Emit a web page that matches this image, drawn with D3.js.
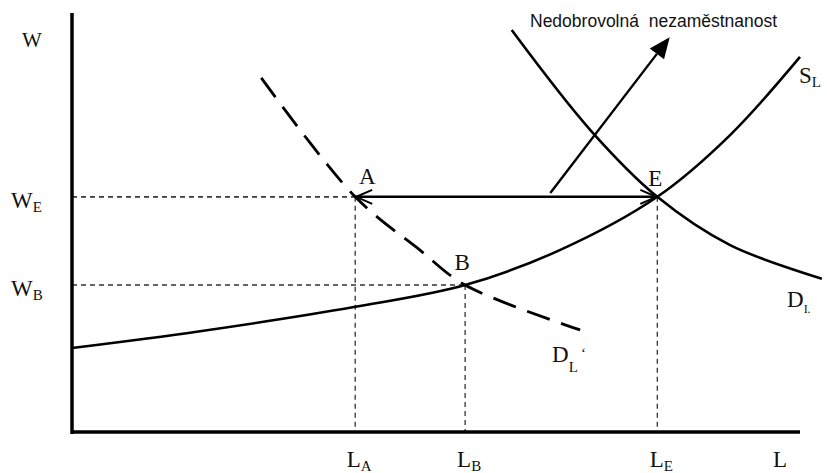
<!DOCTYPE html>
<html>
<head>
<meta http-equiv="Content-Type" content="text/html; charset=utf-8">
<script src="https://cdnjs.cloudflare.com/ajax/libs/d3/7.8.5/d3.min.js"></script>
<style>
  body { margin: 0; background: #fff; }
  .lab { font-family: "Liberation Serif", "Times New Roman", serif; fill: #111; }
  .note { font-family: "Liberation Sans", Arial, sans-serif; fill: #111; }
</style>
</head>
<body>
<div class="chart"></div>
<script type="text/javascript">

// ---------------------------------------------- DATA (abstract units 0..100)

var supplyL = [[0, 20], [17.6, 24], [38.9, 29.8], [54, 35], [67, 43.3], [80.4, 56], [90.4, 70.7], [100, 89.3]];
var demandL = [[60.4, 95.7], [71.2, 71.9], [80.4, 56], [90.4, 44.5], [103, 36.5]];
var demandL2 = [[26, 84.3], [38.9, 56], [47.8, 43.3], [54, 35], [69.8, 24.3]];

// equilibrium points
var points = [
  {name: "A", x: 38.9, y: 56},
  {name: "B", x: 54, y: 35},
  {name: "E", x: 80.4, y: 56}
];
var wTicks = [{main: "W", sub: "E", y: 56}, {main: "W", sub: "B", y: 35}];
var lTicks = [{main: "L", sub: "A", x: 38.9}, {main: "L", sub: "B", x: 54}, {main: "L", sub: "E", x: 80.4}];
var unemployArrow = [[65.7, 56.9], [82.1, 94]];
var noteText = "Nedobrovolná\u00a0 nezaměstnanost";

// ---------------------------------------------- SVG

var width = 827, height = 473;

var svg = d3.select("div.chart").append("svg")
  .attr("width", width)
  .attr("height", height);

var x = d3.scaleLinear().domain([0, 100]).range([72, 800]);
var y = d3.scaleLinear().domain([0, 100]).range([432, 12]);

// guide lines
var guides = svg.append("g");
points.forEach(function(p) {
  guides.append("line")
    .attr("x1", x(0)).attr("x2", x(p.x))
    .attr("y1", y(p.y)).attr("y2", y(p.y))
    .attr("stroke", "#333").attr("stroke-width", 1.3).attr("stroke-dasharray", "5,4");
  guides.append("line")
    .attr("x1", x(p.x)).attr("x2", x(p.x))
    .attr("y1", y(p.y)).attr("y2", y(0))
    .attr("stroke", "#333").attr("stroke-width", 1.3).attr("stroke-dasharray", "5,4");
});

// curves
var line = d3.line().x(function(d){ return x(d[0]); }).y(function(d){ return y(d[1]); }).curve(d3.curveCatmullRom);

svg.append("path").datum(supplyL).attr("d", line)
  .attr("fill", "none").attr("stroke", "#000").attr("stroke-width", 2.6);
svg.append("path").datum(demandL).attr("d", line)
  .attr("fill", "none").attr("stroke", "#000").attr("stroke-width", 2.6);
svg.append("path").datum(demandL2).attr("d", line)
  .attr("fill", "none").attr("stroke", "#000").attr("stroke-width", 2.8)
  .attr("stroke-dasharray", "24,12");

// A <-> E arrow with open heads
var ax = x(points[0].x), ex = x(points[2].x), ay = y(points[0].y);
svg.append("line")
  .attr("x1", ax).attr("x2", ex).attr("y1", ay).attr("y2", ay)
  .attr("stroke", "#000").attr("stroke-width", 2.6);
svg.append("path")
  .attr("d", "M" + (ax + 17) + "," + (ay - 7) + " L" + (ax + 1) + "," + ay + " L" + (ax + 17) + "," + (ay + 7))
  .attr("fill", "none").attr("stroke", "#000").attr("stroke-width", 2);
svg.append("path")
  .attr("d", "M" + (ex - 17) + "," + (ay - 7) + " L" + (ex - 1) + "," + ay + " L" + (ex - 17) + "," + (ay + 7))
  .attr("fill", "none").attr("stroke", "#000").attr("stroke-width", 2);

// unemployment arrow with filled head
var p0 = [x(unemployArrow[0][0]), y(unemployArrow[0][1])];
var p1 = [x(unemployArrow[1][0]), y(unemployArrow[1][1])];
var ang = Math.atan2(p1[1] - p0[1], p1[0] - p0[0]);
var hl = 21, hw = 9;
var base = [p1[0] - hl * Math.cos(ang), p1[1] - hl * Math.sin(ang)];
svg.append("line")
  .attr("x1", p0[0]).attr("y1", p0[1]).attr("x2", base[0]).attr("y2", base[1])
  .attr("stroke", "#000").attr("stroke-width", 2.4);
svg.append("path")
  .attr("d", "M" + p1[0] + "," + p1[1] +
    " L" + (base[0] + hw * Math.sin(ang)) + "," + (base[1] - hw * Math.cos(ang)) +
    " L" + (base[0] - hw * Math.sin(ang)) + "," + (base[1] + hw * Math.cos(ang)) + " Z")
  .attr("fill", "#000");

// axes
svg.append("line").attr("x1", x(0)).attr("x2", x(0)).attr("y1", y(100) + 1).attr("y2", y(0) + 2)
  .attr("stroke", "#000").attr("stroke-width", 3.5);
svg.append("line").attr("x1", x(0)).attr("x2", x(100)).attr("y1", y(0)).attr("y2", y(0))
  .attr("stroke", "#000").attr("stroke-width", 3.5);

// labels
function subLabel(g, px, py, main, sub, anchor) {
  var t = g.append("text").attr("class", "lab").attr("x", px).attr("y", py)
    .attr("font-size", 23).attr("text-anchor", anchor || "middle");
  t.append("tspan").text(main);
  t.append("tspan").attr("font-size", 15).attr("dy", 4).text(sub);
  return t;
}

var labels = svg.append("g");
labels.append("text").attr("class", "lab").attr("x", 22).attr("y", 47).attr("font-size", 21).text("W");
wTicks.forEach(function(d) {
  subLabel(labels, 11, y(d.y) + 11, d.main, d.sub, "start");
});
lTicks.forEach(function(d) {
  subLabel(labels, x(d.x) + 4, 467, d.main, d.sub, "middle");
});
labels.append("text").attr("class", "lab").attr("x", 780).attr("y", 467).attr("font-size", 23).attr("text-anchor", "middle").text("L");

labels.append("text").attr("class", "lab").attr("x", x(points[0].x) + 12).attr("y", y(points[0].y) - 13).attr("font-size", 23).attr("text-anchor", "middle").text("A");
labels.append("text").attr("class", "lab").attr("x", x(points[1].x) - 3).attr("y", y(points[1].y) - 15).attr("font-size", 23).attr("text-anchor", "middle").text("B");
labels.append("text").attr("class", "lab").attr("x", x(points[2].x) - 2).attr("y", y(points[2].y) - 11).attr("font-size", 23).attr("text-anchor", "middle").text("E");

subLabel(labels, 799, 83, "S", "L", "start");
subLabel(labels, 787, 307, "D", "I.", "start").select("tspan:last-child").attr("font-size", 12).attr("dy", 6);
var dl = subLabel(labels, 552, 362, "D", "L", "start");
dl.select("tspan:last-child").attr("dy", 10);
dl.append("tspan").attr("dy", -14).attr("font-size", 15).text(" ‘");

labels.append("text").attr("class", "note").attr("x", 530).attr("y", 27).attr("font-size", 17.5).text(noteText);

</script>
</body>
</html>
